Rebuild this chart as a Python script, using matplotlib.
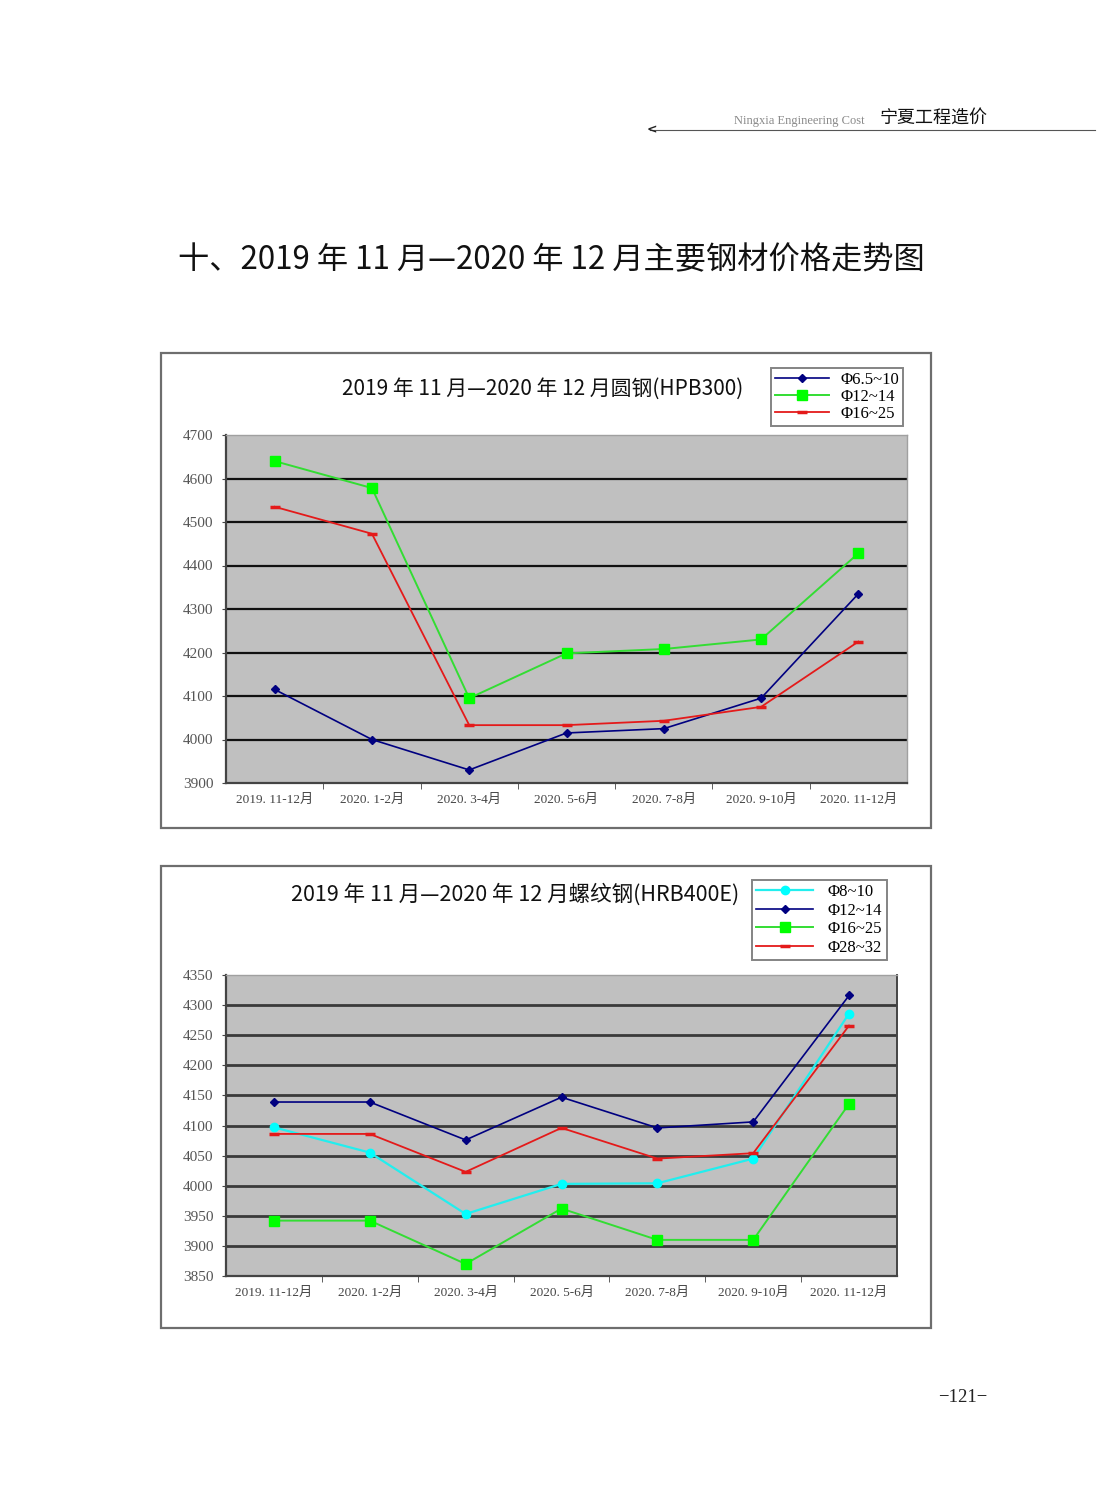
import matplotlib
matplotlib.use('Agg')
import matplotlib.pyplot as plt
from matplotlib.patches import Rectangle
from matplotlib.lines import Line2D
import numpy as np

plt.rcParams['font.family'] = ['Noto Sans CJK SC', 'DejaVu Sans']

# 数据
periods = ['2019. 11-12月', '2020. 1-2月', '2020. 3-4月', '2020. 5-6月',
           '2020. 7-8月', '2020. 9-10月', '2020. 11-12月']

# 圆钢 HPB300
hpb_labels = ['Φ6.5~10', 'Φ12~14', 'Φ16~25']
hpb_6_10 = [4115, 4000, 3930, 4015, 4025, 4095, 4335]
hpb_12_14 = [4640, 4578, 4095, 4198, 4208, 4230, 4428]
hpb_16_25 = [4535, 4473, 4033, 4033, 4043, 4075, 4225]
hpb_yticks = [3900, 4000, 4100, 4200, 4300, 4400, 4500, 4600, 4700]

# 螺纹钢 HRB400E
hrb_labels = ['Φ8~10', 'Φ12~14', 'Φ16~25', 'Φ28~32']
hrb_8_10 = [4097, 4055, 3953, 4003, 4004, 4045, 4286]
hrb_12_14 = [4139, 4139, 4076, 4147, 4096, 4106, 4316]
hrb_16_25 = [3942, 3942, 3870, 3962, 3910, 3910, 4136]
hrb_28_32 = [4086, 4086, 4023, 4096, 4045, 4054, 4266]
hrb_yticks = [3850, 3900, 3950, 4000, 4050, 4100, 4150, 4200, 4250, 4300, 4350]

W, H = 1105, 1489
NAVY = '#000080'
GREEN = '#33dd33'
RED = '#e41a1a'
CYAN = '#22eeee'
SERIF = 'Liberation Serif'
TICKFONT = [SERIF, 'Noto Sans CJK SC']

fig = plt.figure(figsize=(W / 100, H / 100), dpi=100)


def fx(px):
    return px / W


def fy(py):
    return 1 - py / H


# 页眉
fig.text(fx(865), fy(121), 'Ningxia Engineering Cost', ha='right', va='center',
         fontsize=9, color='#8a8a8a', family=SERIF)
fig.text(fx(880), fy(118), '宁夏工程造价', ha='left', va='center', fontsize=13, color='#111111')
fig.add_artist(Line2D([fx(650), fx(1095)], [fy(130), fy(130)], color='#555555', lw=0.8))
fig.text(fx(647), fy(130), '<', ha='left', va='center', fontsize=9, color='#222222',
         family='DejaVu Sans', fontweight='bold')

# 总标题
fig.text(fx(551), fy(260), '十、2019 年 11 月—2020 年 12 月主要钢材价格走势图', ha='center', va='center',
         fontsize=22.5, color='#111111')

# 页码
fig.text(fx(963), fy(1397), '−121−', ha='center', va='center', fontsize=13.5, color='#222222', family=SERIF)


def frame(x0, y0, x1, y1):
    fig.add_artist(Rectangle((fx(x0), fy(y1)), fx(x1 - x0), (y1 - y0) / H,
                             transform=fig.transFigure, fill=False, ec='#6e6e6e', lw=1.6))


def style_axes(ax, yticks, grid_color, grid_lw):
    ax.set_facecolor('#c0c0c0')
    ax.set_xlim(-0.5, 6.5)
    ax.set_ylim(yticks[0], yticks[-1])
    ax.set_yticks(yticks)
    ax.set_yticklabels([str(v) for v in yticks], family=SERIF, fontsize=11, color='#555555')
    for v in yticks[1:-1]:
        ax.axhline(v, color=grid_color, lw=grid_lw, zorder=1)
    ax.set_xticks(range(7))
    ax.set_xticklabels(periods, fontsize=9.5, color='#444444', family=TICKFONT)
    ax.set_xticks(np.arange(0.5, 6.5, 1), minor=True)
    ax.tick_params(axis='x', which='major', length=0, pad=8)
    ax.tick_params(axis='x', which='minor', length=4, direction='out', color='#444444')
    ax.tick_params(axis='y', length=3, direction='out', color='#444444', pad=6)
    for s in ['left', 'bottom']:
        ax.spines[s].set_color('#444444')
        ax.spines[s].set_linewidth(1.6)
    for s in ['top', 'right']:
        ax.spines[s].set_color('#a0a0a0')
        ax.spines[s].set_linewidth(1.0)


def style_legend(leg):
    leg.get_frame().set_edgecolor('#666666')
    leg.get_frame().set_linewidth(1.4)


x = np.arange(len(periods))

# 图一 圆钢
frame(161, 353, 931, 828)
ax1 = fig.add_axes([fx(226), fy(783), fx(907 - 226), (783 - 435) / H])
style_axes(ax1, hpb_yticks, '#111111', 1.6)
ax1.plot(x, hpb_6_10, color=NAVY, lw=1.2, marker='D', ms=4.5, label=hpb_labels[0], zorder=3)
ax1.plot(x, hpb_12_14, color=GREEN, lw=1.4, marker='s', ms=6.5, mfc='#00ff00', mec='#00ff00',
         label=hpb_labels[1], zorder=3)
ax1.plot(x, hpb_16_25, color=RED, lw=1.3, marker='_', ms=7, mew=2.5, label=hpb_labels[2], zorder=3)
fig.text(fx(543), fy(389), '2019 年 11 月—2020 年 12 月圆钢(HPB300)', ha='center', va='center',
         fontsize=15, color='#111111')
leg1 = ax1.legend(loc='upper left', bbox_to_anchor=(fx(771), fy(368)), bbox_transform=fig.transFigure,
                  prop={'family': SERIF, 'size': 12}, frameon=True, fancybox=False,
                  borderpad=0.25, labelspacing=0.05, handlelength=3.2, handletextpad=0.7,
                  borderaxespad=0)
style_legend(leg1)

# 图二 螺纹钢
frame(161, 866, 931, 1328)
ax2 = fig.add_axes([fx(226), fy(1276), fx(897 - 226), (1276 - 975) / H])
style_axes(ax2, hrb_yticks, '#3a3a3a', 2.0)
ax2.spines['right'].set_color('#444444')
ax2.spines['right'].set_linewidth(1.4)
ax2.plot(x, hrb_8_10, color=CYAN, lw=1.6, marker='o', ms=6, mfc='#00ffff', mec='#00ffff',
         label=hrb_labels[0], zorder=3)
ax2.plot(x, hrb_12_14, color=NAVY, lw=1.2, marker='D', ms=4.5, label=hrb_labels[1], zorder=3)
ax2.plot(x, hrb_16_25, color=GREEN, lw=1.4, marker='s', ms=6.5, mfc='#00ff00', mec='#00ff00',
         label=hrb_labels[2], zorder=3)
ax2.plot(x, hrb_28_32, color=RED, lw=1.3, marker='_', ms=7, mew=2.5, label=hrb_labels[3], zorder=3)
fig.text(fx(515), fy(895), '2019 年 11 月—2020 年 12 月螺纹钢(HRB400E)', ha='center', va='center',
         fontsize=15.5, color='#111111')
leg2 = ax2.legend(loc='upper left', bbox_to_anchor=(fx(752), fy(880)), bbox_transform=fig.transFigure,
                  prop={'family': SERIF, 'size': 12}, frameon=True, fancybox=False,
                  borderpad=0.25, labelspacing=0.15, handlelength=3.4, handletextpad=0.9,
                  borderaxespad=0)
style_legend(leg2)

fig.savefig('out.png', dpi=100)
